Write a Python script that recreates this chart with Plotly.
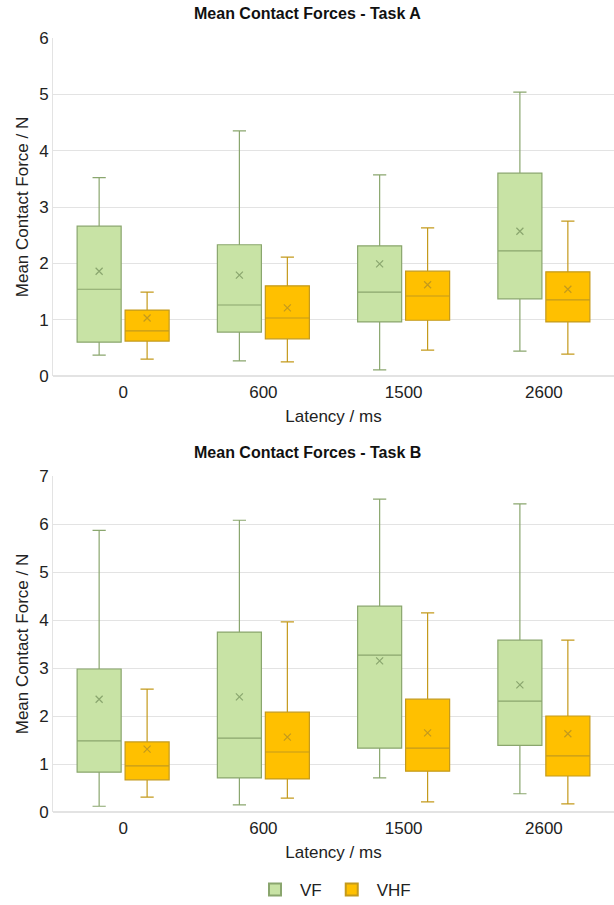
import plotly.graph_objects as go

categories = ["0", "600", "1500", "2600"]

# Task A
a_vf_low = [0.37, 0.27, 0.11, 0.44]
a_vf_q1 = [0.60, 0.78, 0.96, 1.37]
a_vf_med = [1.54, 1.26, 1.49, 2.22]
a_vf_q3 = [2.66, 2.33, 2.31, 3.60]
a_vf_high = [3.52, 4.35, 3.57, 5.04]
a_vf_mean = [1.86, 1.79, 1.99, 2.57]

a_vhf_low = [0.30, 0.25, 0.46, 0.39]
a_vhf_q1 = [0.62, 0.66, 0.99, 0.96]
a_vhf_med = [0.80, 1.03, 1.42, 1.35]
a_vhf_q3 = [1.17, 1.60, 1.86, 1.85]
a_vhf_high = [1.49, 2.11, 2.63, 2.75]
a_vhf_mean = [1.03, 1.21, 1.62, 1.54]

# Task B
b_vf_low = [0.12, 0.15, 0.71, 0.38]
b_vf_q1 = [0.83, 0.71, 1.33, 1.39]
b_vf_med = [1.48, 1.54, 3.27, 2.31]
b_vf_q3 = [2.98, 3.75, 4.29, 3.58]
b_vf_high = [5.87, 6.08, 6.52, 6.42]
b_vf_mean = [2.35, 2.40, 3.15, 2.65]

b_vhf_low = [0.31, 0.29, 0.21, 0.17]
b_vhf_q1 = [0.67, 0.69, 0.85, 0.75]
b_vhf_med = [0.96, 1.25, 1.33, 1.17]
b_vhf_q3 = [1.46, 2.08, 2.35, 2.00]
b_vhf_high = [2.56, 3.96, 4.15, 3.58]
b_vhf_mean = [1.31, 1.56, 1.65, 1.63]

VF_FILL = "#c8e3a5"
VF_LINE = "#8aa66e"
VHF_FILL = "#ffc000"
VHF_LINE = "#c49a1c"
FONT = "Liberation Sans, Arial, sans-serif"

OFF = 0.171
W = 0.314
idx = list(range(len(categories)))

fig = go.Figure()

def add_group(xaxis, yaxis, low, q1, med, q3, high, mean, name, fill, line, sign, show):
    xs = [i + sign * OFF for i in idx]
    fig.add_trace(go.Box(
        x=xs, q1=q1, median=med, q3=q3, lowerfence=low, upperfence=high,
        name=name, legendgroup=name, showlegend=show,
        fillcolor=fill, line=dict(color=line, width=1.2),
        width=W, whiskerwidth=0.3, boxpoints=False,
        xaxis=xaxis, yaxis=yaxis, hoverinfo="skip",
    ))
    fig.add_trace(go.Scatter(
        x=xs, y=mean, mode="markers", showlegend=False, legendgroup=name,
        marker=dict(symbol="x-thin", size=7, line=dict(color=line, width=1.2)),
        xaxis=xaxis, yaxis=yaxis, hoverinfo="skip",
    ))

add_group("x", "y", a_vf_low, a_vf_q1, a_vf_med, a_vf_q3, a_vf_high, a_vf_mean, "VF", VF_FILL, VF_LINE, -1, True)
add_group("x", "y", a_vhf_low, a_vhf_q1, a_vhf_med, a_vhf_q3, a_vhf_high, a_vhf_mean, "VHF", VHF_FILL, VHF_LINE, 1, True)
add_group("x2", "y2", b_vf_low, b_vf_q1, b_vf_med, b_vf_q3, b_vf_high, b_vf_mean, "VF", VF_FILL, VF_LINE, -1, False)
add_group("x2", "y2", b_vhf_low, b_vhf_q1, b_vhf_med, b_vhf_q3, b_vhf_high, b_vhf_mean, "VHF", VHF_FILL, VHF_LINE, 1, False)

xcommon = dict(range=[-0.5, 3.5], tickvals=idx, ticktext=categories, showgrid=False,
               zeroline=False, showline=False, ticks="", automargin=False, ticklabelstandoff=4,
               tickfont=dict(size=17, color="#222"),
               title=dict(text="Latency / ms", font=dict(size=17, color="#222"), standoff=9))
ycommon = dict(showgrid=True, gridcolor="#e3e3e3", gridwidth=1, zeroline=True, zerolinecolor="#e3e3e3",
               zerolinewidth=1.5, showline=True, linecolor="#e3e3e3", linewidth=1, ticks="",
               automargin=False, tickfont=dict(size=17, color="#222"), dtick=1,
               title=dict(text="Mean Contact Force / N", font=dict(size=17, color="#222"), standoff=6))

fig.update_layout(
    width=614, height=905,
    margin=dict(l=53, r=0, t=38, b=93, autoexpand=False),
    paper_bgcolor="white", plot_bgcolor="white",
    font=dict(family=FONT, size=16, color="#222"),
    xaxis=dict(domain=[0, 1], anchor="y", **xcommon),
    yaxis=dict(domain=[0.5633, 1.0], anchor="x", range=[0, 6], **ycommon),
    xaxis2=dict(domain=[0, 1], anchor="y2", **xcommon),
    yaxis2=dict(domain=[0.0, 0.434], anchor="x2", range=[0, 7], **ycommon),
    showlegend=True,
    legend=dict(orientation="h", x=(333 - 53) / 561.0, xanchor="center", y=-(890 - 812) / 774.0,
                yanchor="middle", font=dict(size=17, color="#222"), itemsizing="constant",
                itemwidth=40, tracegroupgap=54),
    annotations=[
        dict(text="<b>Mean Contact Forces - Task A</b>", x=(307 - 53) / 561.0, xref="paper",
             y=(812 - 14) / 774.0, yref="paper", yanchor="middle",
             showarrow=False, font=dict(size=16, color="#111")),
        dict(text="<b>Mean Contact Forces - Task B</b>", x=(307 - 53) / 561.0, xref="paper",
             y=(812 - 452) / 774.0, yref="paper", yanchor="middle",
             showarrow=False, font=dict(size=16, color="#111")),
    ],
)

fig.write_html("out.html", config={"displayModeBar": False},
               post_script="document.body.style.margin='0px';")
